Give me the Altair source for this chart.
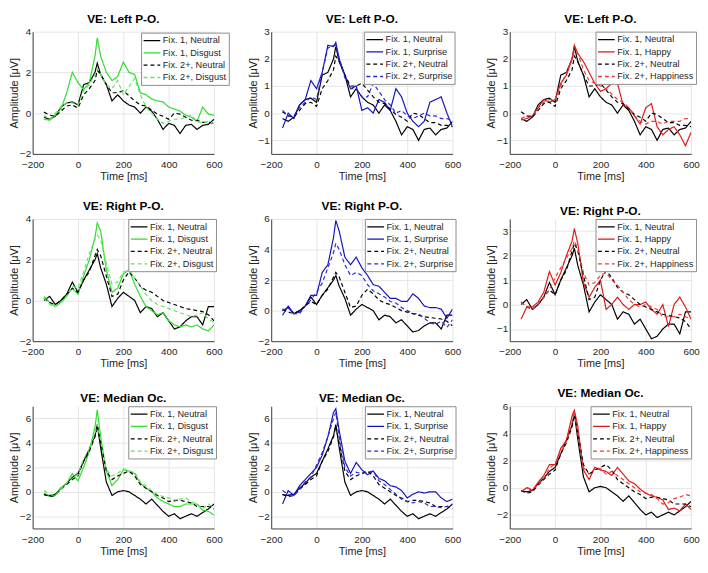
import altair as alt
import pandas as pd

TIMES = [-150, -125, -100, -75, -50, -25, 0, 25, 50, 75, 85, 100, 125, 150, 175, 200,
         225, 250, 275, 300, 325, 350, 375, 400, 425, 450, 475, 500, 525, 550, 575, 600]

REGIONS = ["Left P-O.", "Right P-O.", "Median Oc."]
EMO_FIX1 = ["Disgust", "Surprise", "Happy"]
EMO_FIX2 = ["Disgust", "Surprise", "Happiness"]
EMO_COLORS_F1 = ["#2fdc2f", "#1515c0", "#e01818"]
EMO_COLORS_F2 = ["#5ee85e", "#2a2ad0", "#e83a3a"]

# Neutral traces (shared by the three panels of a row)
LPO_NEU_F1 = [-0.2, -0.3, -0.15, 0.3, 0.5, 0.55, 0.4, 1.4, 1.5, 2.0, 2.45, 1.9, 1.4, 0.6, 0.9, 0.6,
              0.4, 0.3, 0.0, 0.3, 0.1, -0.3, -0.8, -0.5, -0.6, -1.0, -0.6, -0.55, -0.8, -0.6, -0.55, -0.3]
LPO_NEU_F2 = [0.05, -0.1, -0.15, 0.1, 0.35, 0.4, 0.25, 0.9, 1.2, 1.6, 2.1, 1.9, 1.4, 1.0, 1.0, 1.1,
              0.85, 0.6, 0.4, 0.35, 0.15, -0.05, -0.15, -0.3, 0.0, -0.05, -0.2, -0.35, -0.35, -0.45, -0.45, -0.5]
RPO_NEU_F1 = [0.0, 0.2, -0.2, 0.0, 0.3, 0.9, 0.4, 1.0, 1.5, 2.0, 2.3, 1.6, 0.8, -0.3, 0.1, 0.4,
              0.2, 0.0, -0.6, -0.3, -0.4, -0.8, -0.6, -1.0, -1.4, -1.3, -1.0, -0.8, -0.8, -1.2, -0.3, -0.3]
RPO_NEU_F2 = [0.1, -0.1, -0.2, 0.0, 0.3, 0.6, 0.4, 1.0, 1.4, 2.2, 2.5, 2.2, 1.2, 0.2, 0.3, 1.0,
              1.4, 1.1, 0.7, 0.5, 0.4, 0.2, 0.0, -0.1, -0.2, -0.3, -0.4, -0.45, -0.5, -0.55, -0.7, -1.0]
MOC_NEU_F1 = [-0.25, -0.3, -0.2, 0.3, 0.7, 1.2, 1.5, 2.5, 3.5, 4.6, 5.5, 3.6, 0.8, -0.3, 0.0, 0.1,
              0.0, -0.3, -0.6, -1.0, -0.6, -1.1, -1.6, -2.0, -1.8, -2.2, -2.0, -1.8, -2.0, -1.7, -1.4, -1.0]
MOC_NEU_F2 = [-0.2, -0.4, -0.3, 0.2, 0.6, 1.0, 1.3, 2.5, 3.3, 4.5, 5.4, 4.0, 1.7, 1.0, 1.3, 1.5,
              1.7, 1.3, 0.6, 0.3, 0.0, -0.3, -0.5, -0.8, -0.7, -0.7, -0.8, -0.9, -1.2, -1.2, -1.2, -1.4]

# Emotion traces
LPO_DIS_F1 = [-0.3, -0.35, -0.1, 0.2, 1.0, 2.0, 1.5, 1.15, 1.5, 2.8, 3.7, 2.8, 2.0, 1.6, 1.8, 2.5,
              2.0, 1.9, 1.0, 0.9, 0.7, 0.6, 0.55, 0.3, 0.2, 0.1, -0.1, -0.2, -0.4, 0.3, -0.05, -0.1]
LPO_DIS_F2 = [-0.1, -0.3, 0.0, 0.3, 0.5, 0.5, 0.4, 1.1, 1.4, 1.9, 2.2, 1.9, 1.4, 1.2, 1.6, 0.9,
              1.3, 1.7, 0.9, 0.3, 0.0, -0.3, -0.5, -0.4, -0.3, -0.3, -0.2, -0.1, -0.4, -0.5, -0.4, -0.5]
LPO_SUR_F1 = [-0.55, 0.0, -0.2, 0.3, 0.5, 1.2, 0.9, 1.5, 2.5, 2.45, 2.6, 2.0, 1.4, 0.9, 1.0, 0.1,
              0.2, 0.0, 0.5, 0.4, 0.1, 0.9, 0.6, 0.0, -0.3, -0.5, -0.3, 0.4, 0.5, 0.6, 0.0, -0.5]
LPO_SUR_F2 = [0.1, -0.1, -0.1, 0.2, 0.4, 0.6, 0.5, 1.5, 2.4, 2.5, 2.5, 2.0, 1.3, 0.9, 0.9, 0.6,
              0.6, 1.1, 0.8, 0.5, 0.3, 0.0, 0.1, -0.1, -0.2, -0.1, 0.0, -0.1, -0.1, -0.2, -0.2, -0.3]
LPO_HAP_F1 = [-0.25, -0.2, -0.1, 0.2, 0.5, 0.4, 0.5, 1.1, 1.4, 2.0, 2.5, 2.2, 1.9, 1.5, 1.1, 0.8,
              0.9, 1.1, 1.1, 0.3, 0.2, -0.1, -0.4, 0.2, 0.35, -0.5, -0.8, -0.6, -0.5, -0.8, -1.2, -0.7]
LPO_HAP_F2 = [-0.2, -0.1, -0.1, 0.2, 0.4, 0.5, 0.5, 1.0, 1.5, 2.0, 2.3, 2.2, 1.6, 1.2, 1.1, 1.0,
              0.9, 0.7, 0.5, 0.4, 0.2, -0.1, -0.3, -0.4, -0.3, -0.3, -0.4, -0.3, -0.3, -0.3, -0.2, -0.2]
RPO_DIS_F1 = [0.2, -0.1, -0.3, -0.1, 0.2, 0.6, 0.3, 1.2, 2.0, 3.1, 3.8, 3.4, 1.5, 0.4, 0.6, 1.3,
              1.5, 0.8, 0.2, -0.3, -0.5, -0.7, -0.6, -1.0, -1.2, -1.3, -1.2, -1.3, -1.2, -1.4, -1.5, -1.2]
RPO_DIS_F2 = [0.1, -0.2, -0.3, -0.1, 0.2, 0.7, 0.6, 1.4, 2.3, 3.0, 3.2, 3.0, 1.8, 0.8, 0.9, 1.4,
              1.5, 1.1, 0.7, 0.3, 0.0, -0.2, -0.3, -0.4, -0.5, -0.6, -0.7, -0.8, -0.7, -0.6, -0.9, -1.1]
RPO_SUR_F1 = [-0.3, 0.3, -0.2, -0.1, 0.3, 1.0, 1.0, 2.5, 3.0, 4.8, 5.9, 5.2, 3.5, 3.0, 3.5, 2.8,
              2.3, 1.7, 1.6, 1.2, 0.8, 0.8, 0.6, 0.6, 1.1, 0.8, 0.3, 0.2, 0.2, 0.1, -0.5, 0.1]
RPO_SUR_F2 = [0.0, 0.2, -0.2, -0.2, 0.3, 0.7, 1.2, 1.8, 2.8, 3.8, 4.4, 4.0, 3.0, 2.3, 2.5, 2.3,
              1.7, 1.3, 1.1, 0.9, 0.6, 0.5, 0.2, 0.0, -0.2, -0.2, -0.5, -0.8, -0.9, -0.7, -1.1, -0.6]
RPO_HAP_F1 = [-0.6, -0.1, -0.1, 0.1, 0.5, 1.35, 0.8, 1.3, 2.0, 2.6, 3.1, 2.5, 0.9, 0.3, 0.7, 1.0,
              -0.2, 0.0, 0.3, 0.0, -0.2, 0.0, 0.0, 0.1, -0.2, -0.4, 0.0, -0.9, 0.0, 0.3, -0.1, -0.6]
RPO_HAP_F2 = [0.1, -0.1, -0.2, 0.0, 0.3, 0.6, 1.1, 1.5, 1.9, 2.3, 2.6, 2.3, 1.3, 0.8, 0.9, 1.2,
              1.3, 1.0, 0.8, 0.5, 0.2, 0.0, -0.1, 0.0, -0.1, -0.2, -0.5, -0.5, -0.5, -0.4, -0.5, -0.6]
MOC_DIS_F1 = [-0.1, -0.4, -0.3, 0.3, 0.7, 1.5, 0.9, 2.0, 3.3, 5.3, 6.7, 4.5, 1.7, 0.5, 1.0, 1.8,
              1.7, 1.5, 0.7, 0.3, 0.0, -0.5, -0.8, -1.0, -1.2, -1.2, -1.0, -1.0, -1.0, -1.5, -1.6, -1.9]
MOC_DIS_F2 = [0.1, -0.2, -0.3, 0.2, 0.7, 1.3, 1.4, 2.7, 3.5, 4.8, 5.5, 4.2, 1.8, 1.3, 1.5, 1.9,
              1.7, 1.6, 0.8, 0.5, 0.1, -0.2, -0.4, -0.5, -0.8, -0.6, -0.5, -0.8, -1.0, -1.4, -1.0, -1.3]
MOC_SUR_F1 = [-1.0, 0.1, -0.3, 0.5, 1.0, 1.5, 2.0, 3.0, 4.5, 6.5, 6.8, 5.0, 2.5, 1.5, 2.4, 1.8,
              1.4, 1.7, 1.1, 0.9, 0.5, 0.4, 0.1, -0.5, -0.2, 0.0, -0.1, 0.0, 0.0, -0.5, -0.8, -0.6]
MOC_SUR_F2 = [0.1, -0.2, -0.3, 0.2, 0.8, 1.2, 2.2, 3.2, 4.5, 6.0, 6.5, 4.5, 2.0, 1.3, 1.6, 1.5,
              1.6, 1.7, 0.9, 0.6, 0.2, -0.2, -0.6, -0.8, -0.9, -0.8, -0.9, -1.2, -1.2, -1.3, -1.2, -1.0]
MOC_HAP_F1 = [-0.3, 0.0, -0.2, 0.4, 0.9, 1.7, 1.7, 2.9, 3.5, 5.3, 5.7, 4.5, 1.3, 0.6, 1.5, 1.3,
              1.2, 0.9, 1.5, 1.0, 0.5, 0.3, -0.1, -0.4, -0.6, -0.7, -0.9, -1.6, -1.5, -1.7, -1.2, -1.6]
MOC_HAP_F2 = [-0.3, 0.0, -0.1, 0.2, 0.7, 1.4, 1.8, 2.6, 3.4, 4.8, 5.6, 4.0, 1.5, 1.0, 1.4, 1.4,
              1.0, 1.2, 0.9, 0.6, 0.3, 0.0, -0.3, -0.4, -0.5, -0.8, -1.2, -1.1, -0.8, -0.7, -0.5, -0.6]

NEUTRAL_F1 = [LPO_NEU_F1, RPO_NEU_F1, MOC_NEU_F1]
NEUTRAL_F2 = [LPO_NEU_F2, RPO_NEU_F2, MOC_NEU_F2]
EMOTION_F1 = [[LPO_DIS_F1, LPO_SUR_F1, LPO_HAP_F1],
              [RPO_DIS_F1, RPO_SUR_F1, RPO_HAP_F1],
              [MOC_DIS_F1, MOC_SUR_F1, MOC_HAP_F1]]
EMOTION_F2 = [[LPO_DIS_F2, LPO_SUR_F2, LPO_HAP_F2],
              [RPO_DIS_F2, RPO_SUR_F2, RPO_HAP_F2],
              [MOC_DIS_F2, MOC_SUR_F2, MOC_HAP_F2]]

Y_DOMAINS = [[[-2, 4], [-1.5, 3], [-1.5, 3]],
             [[-2, 4], [-2, 6], [-1.5, 3.5]],
             [[-3, 7], [-3, 7], [-3, 6]]]
Y_TICKS = [[[-2, 0, 2, 4], [-1, 0, 1, 2, 3], [-1, 0, 1, 2, 3]],
           [[-2, 0, 2, 4], [-2, 0, 2, 4, 6], [-1, 0, 1, 2, 3]],
           [[-2, 0, 2, 4, 6], [-2, 0, 2, 4, 6], [-2, 0, 2, 4, 6]]]
X_TICKS = [-200, 0, 200, 400, 600]
LEGEND_X = [[110, 94, 87], [97, 95, 87], [97, 95, 82]]
LEGEND_Y = [[1, 0, 0], [0, 0, 0], [0, 0, 0]]

FONT = "Liberation Sans"
TXT = "#262626"
W, H = 184, 124


def panel(r, c):
    names = ["Fix. 1, Neutral", f"Fix. 1, {EMO_FIX1[c]}",
             "Fix. 2+, Neutral", f"Fix. 2+, {EMO_FIX2[c]}"]
    series = [NEUTRAL_F1[r], EMOTION_F1[r][c], NEUTRAL_F2[r], EMOTION_F2[r][c]]
    rows = []
    for nm, vals in zip(names, series):
        for t, v in zip(TIMES, vals):
            rows.append({"t": t, "v": v, "s": nm})
    df = pd.DataFrame(rows)
    leg = alt.Legend(title=None, orient="none", legendX=LEGEND_X[r][c], legendY=LEGEND_Y[r][c],
                     fillColor="white", strokeColor="#8c8c8c", padding=2,
                     labelFontSize=9.3, labelFont=FONT, labelColor=TXT,
                     symbolType="M-1.6,0H1.6", symbolSize=112, symbolStrokeWidth=1.3,
                     symbolOffset=3, rowPadding=0.5, labelOffset=5, cornerRadius=0)
    return alt.Chart(df).mark_line(strokeWidth=1.2, clip=True).encode(
        x=alt.X("t:Q", scale=alt.Scale(domain=[-200, 600], nice=False),
                axis=alt.Axis(values=X_TICKS, title="Time [ms]")),
        y=alt.Y("v:Q", scale=alt.Scale(domain=Y_DOMAINS[r][c], nice=False),
                axis=alt.Axis(values=Y_TICKS[r][c], title="Amplitude [μV]")),
        color=alt.Color("s:N", scale=alt.Scale(
            domain=names, range=["#000000", EMO_COLORS_F1[c], "#000000", EMO_COLORS_F2[c]]),
            legend=leg),
        strokeDash=alt.StrokeDash("s:N", scale=alt.Scale(domain=names,
                                  range=[[1, 0], [1, 0], [4, 3], [4, 3]]), legend=leg),
        order=alt.Order("t:Q"),
    ).properties(
        width=W, height=H,
        title=alt.TitleParams(f"VE: {REGIONS[r]}", fontSize=12, fontWeight="bold", font=FONT,
                              color="#000000", offset=1, anchor="middle", frame="group"),
    )


charts = [panel(r, c) for r in range(3) for c in range(3)]

chart = alt.ConcatChart(
    concat=charts, columns=3, spacing={"row": 66, "column": 58}, bounds="flush",
    padding={"left": 0, "top": 0, "right": 0, "bottom": 0},
).resolve_scale(
    color="independent", strokeDash="independent"
).resolve_legend(
    color="independent", strokeDash="independent"
).configure_view(stroke="transparent").configure_axis(
    grid=True, gridColor="#e6e6e6", gridWidth=1,
    domainColor="#404040", domainWidth=1, ticks=False, labelFlush=False,
    labelFont=FONT, labelFontSize=10, labelColor=TXT,
    titleFont=FONT, titleFontSize=11, titleColor=TXT, titleFontWeight="normal",
).configure_axisX(titlePadding=1, labelPadding=6).configure_axisY(titlePadding=0, labelPadding=2)

chart.save("out.html", embed_options={"renderer": "svg", "actions": False})
